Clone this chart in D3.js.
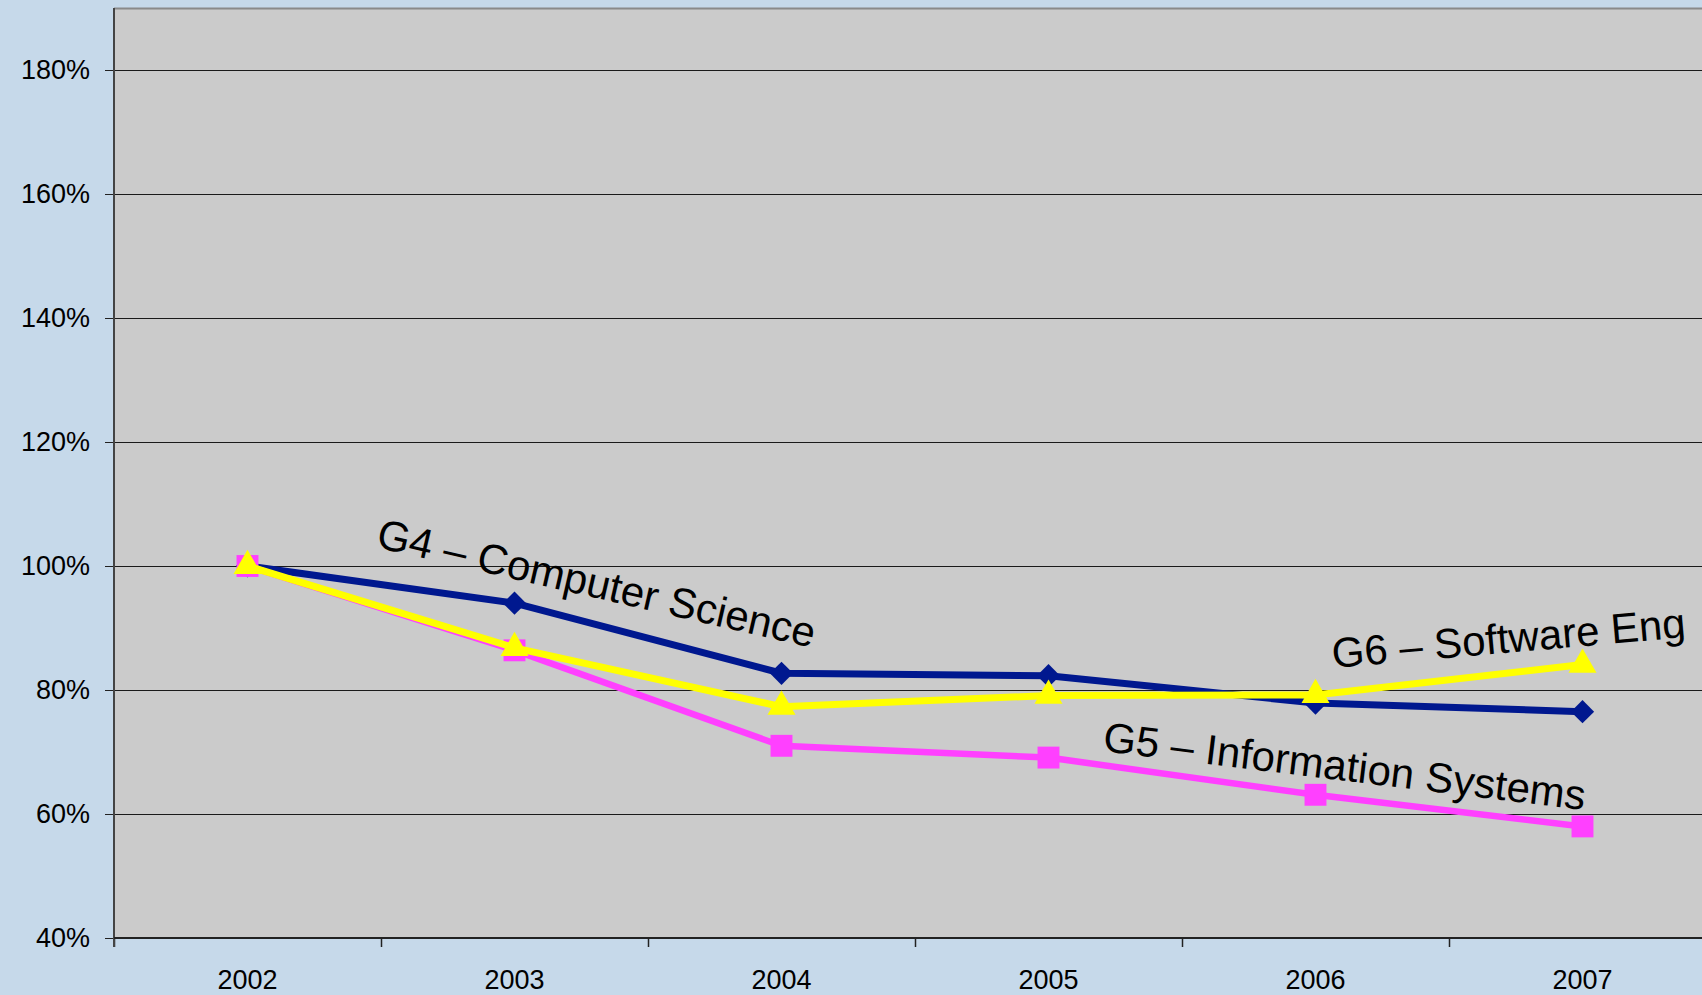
<!DOCTYPE html>
<html>
<head>
<meta charset="utf-8">
<script src="https://cdn.jsdelivr.net/npm/d3@7"></script>
<style>
  html, body { margin: 0; padding: 0; background: #c6d9ea; overflow: hidden; }
  text { font-family: "Liberation Sans", Arial, sans-serif; }
</style>
</head>
<body>
<div id="container"></div>
<script>
// DATA

const years = ["2002", "2003", "2004", "2005", "2006", "2007"]
const yTicks = [40, 60, 80, 100, 120, 140, 160, 180]

const g4Values = [100, 94.0, 82.7, 82.3, 77.9, 76.5]   // Computer Science
const g5Values = [100, 86.4, 71.0, 69.1, 63.1, 58.0]   // Information Systems
const g6Values = [100, 86.8, 77.3, 79.1, 79.2, 84.1]   // Software Eng

// VARIABLES

const width = 1702,
      height = 995,
      margin = {top: 8, bottom: 57, left: 114, right: -14}

const series = [
  {name: "G4", values: g4Values, color: "#00188f", stroke: 7, symbol: d3.symbolSquare, size: 270, rot: 45},
  {name: "G5", values: g5Values, color: "#ff40ff", stroke: 6.5, symbol: d3.symbolSquare, size: 480, rot: 0},
  {name: "G6", values: g6Values, color: "#ffff00", stroke: 7, symbol: d3.symbolTriangle, size: 340, rot: 0}
]

const labels = [
  {text: "G4 \u2013 Computer Science", x: 375, y: 547, angle: 13},
  {text: "G5 \u2013 Information Systems", x: 1102, y: 751, angle: 7},
  {text: "G6 \u2013 Software Eng", x: 1333, y: 668, angle: -5}
]

// SCALES

const xScale = d3.scaleBand()
    .domain(years)
    .range([margin.left, width - margin.right])

const yScale = d3.scaleLinear()
    .domain([40, 190])
    .range([height - margin.bottom, margin.top])

// ELEMENTS

const mySVG = d3.select("#container")
    .append("svg")
    .attr("width", width)
    .attr("height", height)

mySVG.append("rect")
    .attr("x", margin.left)
    .attr("y", margin.top)
    .attr("width", width - margin.right - margin.left)
    .attr("height", height - margin.bottom - margin.top)
    .attr("fill", "#cbcbcb")

mySVG.append("line")
    .attr("x1", margin.left).attr("x2", width)
    .attr("y1", margin.top + 0.5).attr("y2", margin.top + 0.5)
    .attr("stroke", "#8a8a8a")
    .attr("stroke-width", 2)

// gridlines
mySVG.append("g")
    .selectAll("line")
    .data(yTicks.filter(d => d > 40))
    .join("line")
    .attr("x1", margin.left)
    .attr("x2", width)
    .attr("y1", d => Math.round(yScale(d)) + 0.5)
    .attr("y2", d => Math.round(yScale(d)) + 0.5)
    .attr("stroke", "#1a1a1a")
    .attr("stroke-width", 1)

const xAxis = d3.axisBottom(xScale).tickSize(0).tickPadding(32)
const yAxis = d3.axisLeft(yScale)
    .tickValues(yTicks)
    .tickFormat(d => d + "%")
    .tickSize(9)
    .tickPadding(15)

const gx = mySVG.append("g")
    .attr("transform", `translate(0,${height - margin.bottom})`)
    .call(xAxis)
gx.select(".domain").remove()
gx.selectAll("text").attr("font-size", 27).attr("fill", "#000")

// band boundary ticks
mySVG.append("g")
    .selectAll("line")
    .data(years)
    .join("line")
    .attr("x1", d => Math.round(xScale(d)) + 0.5)
    .attr("x2", d => Math.round(xScale(d)) + 0.5)
    .attr("y1", height - margin.bottom)
    .attr("y2", height - margin.bottom + 9)
    .attr("stroke", "#222")
    .attr("stroke-width", 1.5)

const gy = mySVG.append("g")
    .attr("transform", `translate(${margin.left},0)`)
    .call(yAxis)
gy.select(".domain").remove()
gy.selectAll(".tick line").attr("stroke", "#222")
gy.selectAll("text").attr("font-size", 27).attr("fill", "#000")

// axis lines
mySVG.append("line")
    .attr("x1", margin.left).attr("x2", margin.left)
    .attr("y1", margin.top).attr("y2", height - margin.bottom + 9)
    .attr("stroke", "#444")
    .attr("stroke-width", 2)

mySVG.append("line")
    .attr("x1", margin.left).attr("x2", width)
    .attr("y1", height - margin.bottom).attr("y2", height - margin.bottom)
    .attr("stroke", "#222")
    .attr("stroke-width", 2)

// SELECT-JOIN-DRAW

const xPos = (d, i) => xScale(years[i]) + xScale.bandwidth() / 2

const line = d3.line()
    .x(xPos)
    .y(d => yScale(d))

series.forEach(s => {
  const g = mySVG.append("g")

  g.append("path")
      .datum(s.values)
      .attr("d", line)
      .attr("fill", "none")
      .attr("stroke", s.color)
      .attr("stroke-width", s.stroke)
      .attr("stroke-linejoin", "round")

  g.selectAll("path.marker")
      .data(s.values)
      .join("path")
      .attr("class", "marker")
      .attr("d", d3.symbol().type(s.symbol).size(s.size))
      .attr("transform", (d, i) => `translate(${xPos(d, i)},${yScale(d)}) rotate(${s.rot})`)
      .attr("fill", s.color)
})

// LABELS

mySVG.append("g")
    .selectAll("text")
    .data(labels)
    .join("text")
    .attr("transform", d => `translate(${d.x},${d.y}) rotate(${d.angle})`)
    .attr("font-size", 42)
    .attr("fill", "#000")
    .text(d => d.text)
</script>
</body>
</html>
